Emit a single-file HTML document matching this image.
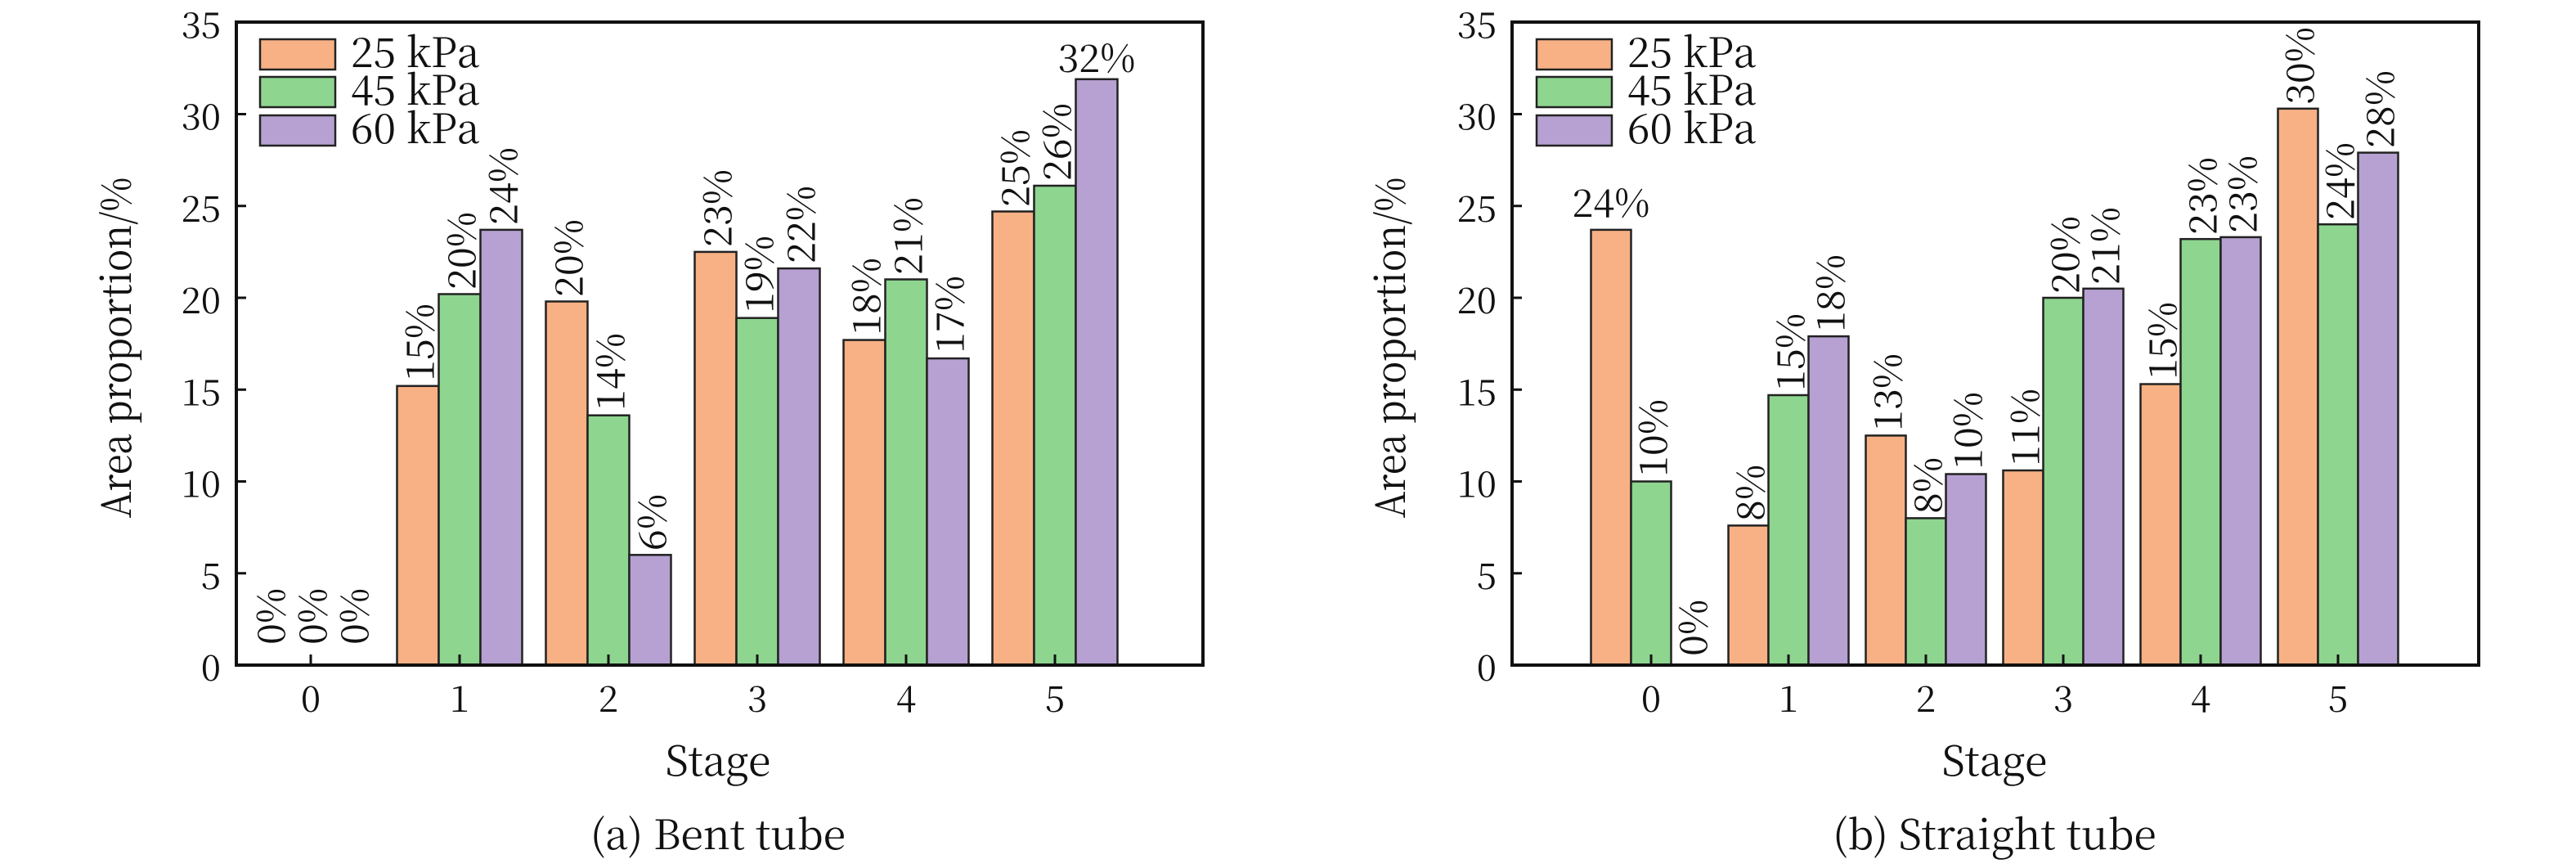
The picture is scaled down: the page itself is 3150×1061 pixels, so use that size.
<!DOCTYPE html>
<html><head><meta charset="utf-8"><style>
html,body{margin:0;padding:0;background:#fff;}
svg{display:block;font-family:"Noto Serif CJK SC","Liberation Serif",serif;}
svg text{font-family:"Noto Serif CJK SC","Liberation Serif",serif;fill:#111;}
.o{fill:#F7B185;stroke:#222;stroke-width:2.5;}
.g{fill:#8ED590;stroke:#222;stroke-width:2.5;}
.p{fill:#B6A1D2;stroke:#222;stroke-width:2.5;}
</style></head><body>
<svg width="3150" height="1061" viewBox="0 0 3150 1061" xmlns="http://www.w3.org/2000/svg">
<rect width="3150" height="1061" fill="#fff"/>

<!-- ============ LEFT CHART ============ -->
<g>
<rect class="o" x="485.5" y="471.8" width="51" height="341.2"/>
<rect class="g" x="536.5" y="359.5" width="51" height="453.5"/>
<rect class="p" x="587.5" y="280.9" width="51" height="532.1"/>
<rect class="o" x="667.5" y="368.5" width="51" height="444.5"/>
<rect class="g" x="718.5" y="507.7" width="51" height="305.3"/>
<rect class="p" x="769.5" y="678.3" width="51" height="134.7"/>
<rect class="o" x="849.5" y="307.9" width="51" height="505.1"/>
<rect class="g" x="900.5" y="388.7" width="51" height="424.3"/>
<rect class="p" x="951.5" y="328.1" width="51" height="484.9"/>
<rect class="o" x="1031.5" y="415.6" width="51" height="397.4"/>
<rect class="g" x="1082.5" y="341.5" width="51" height="471.5"/>
<rect class="p" x="1133.5" y="438.1" width="51" height="374.9"/>
<rect class="o" x="1213.5" y="258.5" width="51" height="554.5"/>
<rect class="g" x="1264.5" y="227.0" width="51" height="586.0"/>
<rect class="p" x="1315.5" y="96.8" width="51" height="716.2"/>

<rect x="289" y="27" width="1182" height="786" fill="none" stroke="#111" stroke-width="4"/>
<g stroke="#111" stroke-width="3">
<line x1="289" y1="700.75" x2="301" y2="700.75"/>
<line x1="289" y1="588.5" x2="301" y2="588.5"/>
<line x1="289" y1="476.25" x2="301" y2="476.25"/>
<line x1="289" y1="364" x2="301" y2="364"/>
<line x1="289" y1="251.75" x2="301" y2="251.75"/>
<line x1="289" y1="139.5" x2="301" y2="139.5"/>
<line x1="380" y1="813" x2="380" y2="800"/>
<line x1="562" y1="813" x2="562" y2="800"/>
<line x1="744" y1="813" x2="744" y2="800"/>
<line x1="926" y1="813" x2="926" y2="800"/>
<line x1="1108" y1="813" x2="1108" y2="800"/>
<line x1="1290" y1="813" x2="1290" y2="800"/>
</g>
<g text-anchor="end" dominant-baseline="central" font-size="44">
<text x="270" y="813">0</text>
<text x="270" y="700.75">5</text>
<text x="270" y="588.5">10</text>
<text x="270" y="476.25">15</text>
<text x="270" y="364">20</text>
<text x="270" y="251.75">25</text>
<text x="270" y="139.5">30</text>
<text x="270" y="27.25">35</text>
</g>
<g text-anchor="middle" font-size="44">
<text x="380" y="870">0</text>
<text x="562" y="870">1</text>
<text x="744" y="870">2</text>
<text x="926" y="870">3</text>
<text x="1108" y="870">4</text>
<text x="1290" y="870">5</text>
</g>
<g dominant-baseline="central" font-size="47">
<text transform="translate(329,788) rotate(-90)">0%</text>
<text transform="translate(380,788) rotate(-90)">0%</text>
<text transform="translate(431,788) rotate(-90)">0%</text>
<text transform="translate(511,466) rotate(-90)">15%</text>
<text transform="translate(562,354) rotate(-90)">20%</text>
<text transform="translate(613,275) rotate(-90)">24%</text>
<text transform="translate(693,363) rotate(-90)">20%</text>
<text transform="translate(744,502) rotate(-90)">14%</text>
<text transform="translate(795,673) rotate(-90)">6%</text>
<text transform="translate(875,302) rotate(-90)">23%</text>
<text transform="translate(926,383) rotate(-90)">19%</text>
<text transform="translate(977,322) rotate(-90)">22%</text>
<text transform="translate(1057,410) rotate(-90)">18%</text>
<text transform="translate(1108,336) rotate(-90)">21%</text>
<text transform="translate(1159,432) rotate(-90)">17%</text>
<text transform="translate(1239,253) rotate(-90)">25%</text>
<text transform="translate(1290,221) rotate(-90)">26%</text>
</g>
<text font-size="47" x="1341" y="88" text-anchor="middle">32%</text>
<rect class="o" x="318" y="48" width="92" height="37"/>
<rect class="g" x="318" y="94" width="92" height="37"/>
<rect class="p" x="318" y="141" width="92" height="37"/>
<g font-size="50">
<text x="429" y="82">25 kPa</text>
<text x="429" y="128">45 kPa</text>
<text x="429" y="175">60 kPa</text>
</g>
<text transform="translate(160,425) rotate(-90)" text-anchor="middle" font-size="50" textLength="417" lengthAdjust="spacingAndGlyphs">Area proportion/%</text>
<text x="878" y="948" text-anchor="middle" font-size="50">Stage</text>
<text x="878" y="1038" text-anchor="middle" font-size="50">(a) Bent tube</text>
</g>

<!-- ============ RIGHT CHART ============ -->
<g>
<rect class="o" x="1945.5" y="280.9" width="49" height="532.1"/>
<rect class="g" x="1994.5" y="588.5" width="49" height="224.5"/>
<rect class="o" x="2113.5" y="642.4" width="49" height="170.6"/>
<rect class="g" x="2162.5" y="483.0" width="49" height="330.0"/>
<rect class="p" x="2211.5" y="411.1" width="49" height="401.9"/>
<rect class="o" x="2281.5" y="532.4" width="49" height="280.6"/>
<rect class="g" x="2330.5" y="633.4" width="49" height="179.6"/>
<rect class="p" x="2379.5" y="579.5" width="49" height="233.5"/>
<rect class="o" x="2449.5" y="575.0" width="49" height="238.0"/>
<rect class="g" x="2498.5" y="364.0" width="49" height="449.0"/>
<rect class="p" x="2547.5" y="352.8" width="49" height="460.2"/>
<rect class="o" x="2617.5" y="469.5" width="49" height="343.5"/>
<rect class="g" x="2666.5" y="292.2" width="49" height="520.8"/>
<rect class="p" x="2715.5" y="289.9" width="49" height="523.1"/>
<rect class="o" x="2785.5" y="132.8" width="49" height="680.2"/>
<rect class="g" x="2834.5" y="274.2" width="49" height="538.8"/>
<rect class="p" x="2883.5" y="186.6" width="49" height="626.4"/>

<rect x="1849" y="27" width="1182" height="786" fill="none" stroke="#111" stroke-width="4"/>
<g stroke="#111" stroke-width="3">
<line x1="1849" y1="700.75" x2="1861" y2="700.75"/>
<line x1="1849" y1="588.5" x2="1861" y2="588.5"/>
<line x1="1849" y1="476.25" x2="1861" y2="476.25"/>
<line x1="1849" y1="364" x2="1861" y2="364"/>
<line x1="1849" y1="251.75" x2="1861" y2="251.75"/>
<line x1="1849" y1="139.5" x2="1861" y2="139.5"/>
<line x1="2019" y1="813" x2="2019" y2="800"/>
<line x1="2187" y1="813" x2="2187" y2="800"/>
<line x1="2355" y1="813" x2="2355" y2="800"/>
<line x1="2523" y1="813" x2="2523" y2="800"/>
<line x1="2691" y1="813" x2="2691" y2="800"/>
<line x1="2859" y1="813" x2="2859" y2="800"/>
</g>
<g text-anchor="end" dominant-baseline="central" font-size="44">
<text x="1830" y="813">0</text>
<text x="1830" y="700.75">5</text>
<text x="1830" y="588.5">10</text>
<text x="1830" y="476.25">15</text>
<text x="1830" y="364">20</text>
<text x="1830" y="251.75">25</text>
<text x="1830" y="139.5">30</text>
<text x="1830" y="27.25">35</text>
</g>
<g text-anchor="middle" font-size="44">
<text x="2019" y="870">0</text>
<text x="2187" y="870">1</text>
<text x="2355" y="870">2</text>
<text x="2523" y="870">3</text>
<text x="2691" y="870">4</text>
<text x="2859" y="870">5</text>
</g>
<g dominant-baseline="central" font-size="47">
<text transform="translate(2019,583) rotate(-90)">10%</text>
<text transform="translate(2068,802) rotate(-90)">0%</text>
<text transform="translate(2138,637) rotate(-90)">8%</text>
<text transform="translate(2187,478) rotate(-90)">15%</text>
<text transform="translate(2236,406) rotate(-90)">18%</text>
<text transform="translate(2306,527) rotate(-90)">13%</text>
<text transform="translate(2355,628) rotate(-90)">8%</text>
<text transform="translate(2404,574) rotate(-90)">10%</text>
<text transform="translate(2474,570) rotate(-90)">11%</text>
<text transform="translate(2523,359) rotate(-90)">20%</text>
<text transform="translate(2572,348) rotate(-90)">21%</text>
<text transform="translate(2642,464) rotate(-90)">15%</text>
<text transform="translate(2691,287) rotate(-90)">23%</text>
<text transform="translate(2740,285) rotate(-90)">23%</text>
<text transform="translate(2810,128) rotate(-90)">30%</text>
<text transform="translate(2859,269) rotate(-90)">24%</text>
<text transform="translate(2908,181) rotate(-90)">28%</text>
</g>
<text font-size="47" x="1970" y="265" text-anchor="middle">24%</text>
<rect class="o" x="1879" y="48" width="92" height="37"/>
<rect class="g" x="1879" y="94" width="92" height="37"/>
<rect class="p" x="1879" y="141" width="92" height="37"/>
<g font-size="50">
<text x="1990" y="82">25 kPa</text>
<text x="1990" y="128">45 kPa</text>
<text x="1990" y="175">60 kPa</text>
</g>
<text transform="translate(1718,425) rotate(-90)" text-anchor="middle" font-size="50" textLength="417" lengthAdjust="spacingAndGlyphs">Area proportion/%</text>
<text x="2439" y="948" text-anchor="middle" font-size="50">Stage</text>
<text x="2439" y="1038" text-anchor="middle" font-size="50">(b) Straight tube</text>
</g>
</svg>
</body></html>
